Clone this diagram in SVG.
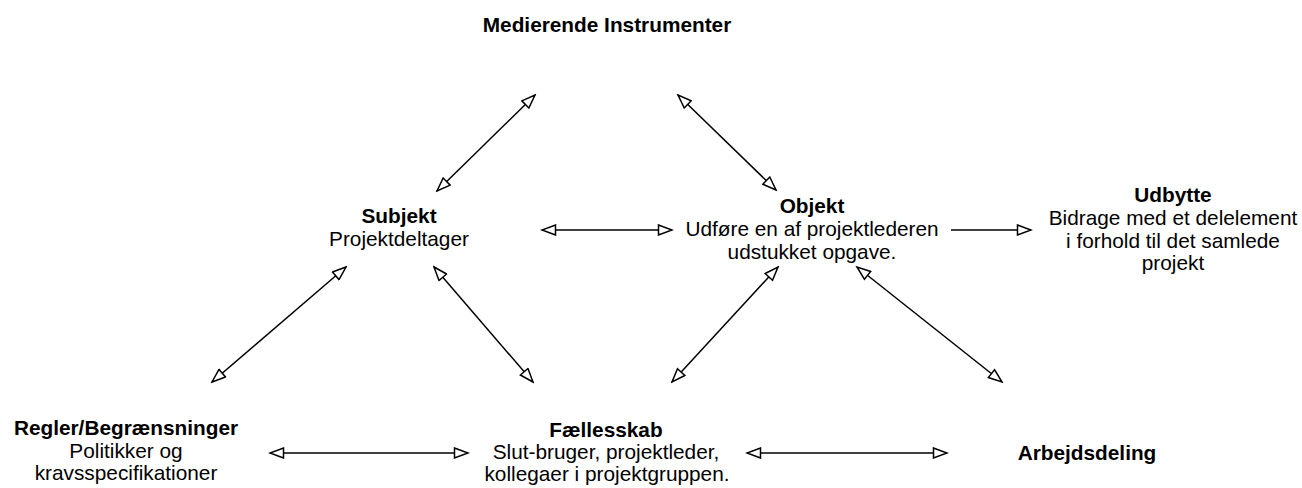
<svg xmlns="http://www.w3.org/2000/svg" width="1302" height="488" viewBox="0 0 1302 488">
<style>
text{font-family:"Liberation Sans",Arial,Helvetica,sans-serif;font-size:20.8px;fill:#000;text-anchor:middle}
.b{font-weight:bold}
.c{stroke:#000;stroke-width:1.5;fill:none}
</style>
<defs>
<marker id="ah" markerUnits="userSpaceOnUse" viewBox="0 0 17 12" refX="15" refY="6" markerWidth="17" markerHeight="12" orient="auto-start-reverse">
<path d="M1.5,1 L15,6 L1.5,11 Z" fill="#fff" stroke="#000" stroke-width="1.5" stroke-linejoin="miter"/>
</marker>
</defs>
<rect width="1302" height="488" fill="#fff"/>
<g id="connectors">
<line class="c" x1="437" y1="191" x2="535" y2="95" marker-start="url(#ah)" marker-end="url(#ah)"/>
<line class="c" x1="678" y1="95" x2="776" y2="190" marker-start="url(#ah)" marker-end="url(#ah)"/>
<line class="c" x1="542" y1="230" x2="672" y2="230" marker-start="url(#ah)" marker-end="url(#ah)"/>
<line class="c" x1="951" y1="230" x2="1031" y2="230" marker-end="url(#ah)"/>
<line class="c" x1="346" y1="267" x2="212" y2="382" marker-start="url(#ah)" marker-end="url(#ah)"/>
<line class="c" x1="434" y1="267" x2="533" y2="382" marker-start="url(#ah)" marker-end="url(#ah)"/>
<line class="c" x1="778" y1="267" x2="672" y2="382" marker-start="url(#ah)" marker-end="url(#ah)"/>
<line class="c" x1="857" y1="267" x2="1002" y2="382" marker-start="url(#ah)" marker-end="url(#ah)"/>
<line class="c" x1="270" y1="453" x2="468" y2="453" marker-start="url(#ah)" marker-end="url(#ah)"/>
<line class="c" x1="747" y1="453" x2="947" y2="453" marker-start="url(#ah)" marker-end="url(#ah)"/>
</g>
<g id="medierende">
<text class="b" x="607" y="32">Medierende Instrumenter</text>
</g>
<g id="subjekt">
<text class="b" x="399" y="223">Subjekt</text>
<text x="399" y="246">Projektdeltager</text>
</g>
<g id="objekt">
<text class="b" x="812" y="213">Objekt</text>
<text x="812" y="236">Udføre en af projektlederen</text>
<text x="812" y="259">udstukket opgave.</text>
</g>
<g id="udbytte">
<text class="b" x="1173" y="202">Udbytte</text>
<text x="1173" y="225">Bidrage med et delelement</text>
<text x="1173" y="248">i forhold til det samlede</text>
<text x="1173" y="270">projekt</text>
</g>
<g id="regler">
<text class="b" x="126" y="435">Regler/Begrænsninger</text>
<text x="126" y="458">Politikker og</text>
<text x="126" y="480">kravsspecifikationer</text>
</g>
<g id="faellesskab">
<text class="b" x="606" y="437">Fællesskab</text>
<text x="606" y="459">Slut-bruger, projektleder,</text>
<text x="607" y="481">kollegaer i projektgruppen.</text>
</g>
<g id="arbejdsdeling">
<text class="b" x="1087" y="460">Arbejdsdeling</text>
</g>
</svg>
